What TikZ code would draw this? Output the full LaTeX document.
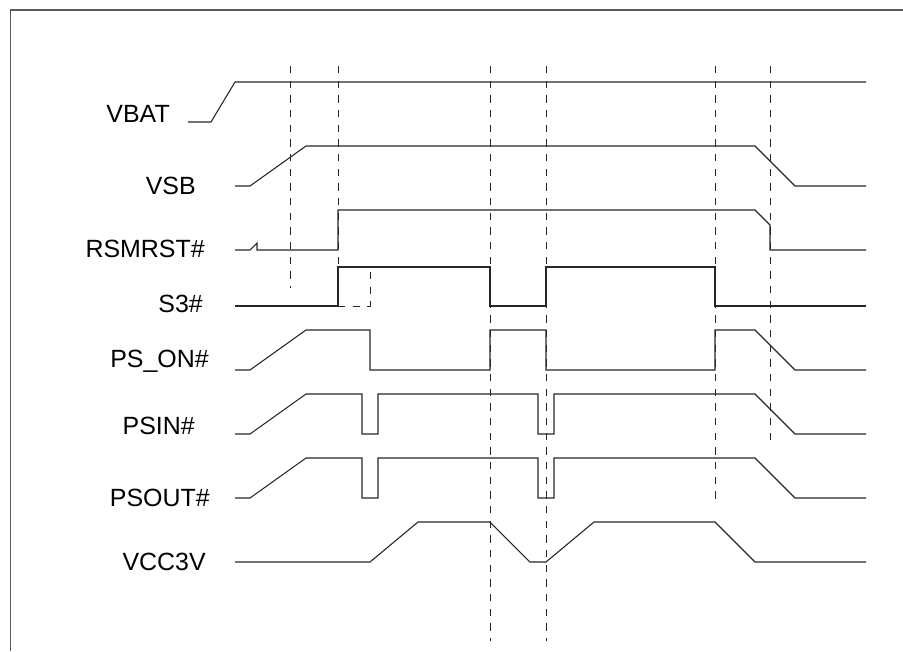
\documentclass[tikz,border=0pt]{standalone}
\usepackage{fontspec}
\setmainfont{Liberation Sans}
\begin{document}
\begin{tikzpicture}[x=0.75pt,y=-0.75pt,
  sig/.style={draw=black!85,line width=0.8pt,line join=miter},
  guide/.style={draw=black!85,line width=0.75pt,dash pattern=on 5.5pt off 5.5pt},
  frame/.style={draw=black!65,line width=1.2pt},
  lbl/.style={font=\fontsize{18.7}{22}\selectfont,anchor=base east,inner sep=0pt}]
\useasboundingbox (0,0) rectangle (903,651);
% frame
\draw[frame] (903,10) -- (10.5,10) -- (10.5,651);
% guide lines
\draw[guide] (290,66) -- (290,288);
\draw[guide] (338,66) -- (338,267);
\draw[guide] (338,306) -- (370,306) -- (370,268);
\draw[guide] (490,66) -- (490,641);
\draw[guide] (546,66) -- (546,641);
\draw[guide] (715,66) -- (715,503);
\draw[guide] (770,66) -- (770,443);
% labels
\node[lbl] (vbat) at (170,122) {VBAT};
\node[lbl] (vsb) at (196,194) {VSB};
\node[lbl] (rsm) at (205,257) {RSMRST\#};
\node[lbl] (s3) at (203,312) {S3\#};
\node[lbl] (pson) at (209,367) {PS\_ON\#};
\node[lbl] (psin) at (195,434) {PSIN\#};
\node[lbl] (psout) at (210,506) {PSOUT\#};
\node[lbl] (vcc) at (206,570) {VCC3V};
% VBAT
\draw[sig] (188,122) -- (211,122) -- (235,82) -- (866,82);
% VSB
\draw[sig] (235,186) -- (250,186) -- (306,146) -- (755,146) -- (795,186) -- (866,186);
% RSMRST#
\draw[sig] (235,250) -- (250,250) -- (257,243) -- (257,250) -- (338,250) -- (338,210)
  -- (755,210) -- (770,225) -- (770,250) -- (866,250);
% S3#
\draw[sig] (235,306) -- (338,306) -- (338,267) -- (490,267) -- (490,306) -- (546,306)
  -- (546,267) -- (715,267) -- (715,306) -- (866,306);
% PS_ON#
\draw[sig] (235,370) -- (250,370) -- (306,330) -- (370,330) -- (370,370) -- (490,370)
  -- (490,330) -- (546,330) -- (546,370) -- (715,370) -- (715,330) -- (755,330)
  -- (795,370) -- (866,370);
% PSIN#
\draw[sig] (235,434) -- (250,434) -- (306,394) -- (362,394) -- (362,434) -- (378,434)
  -- (378,394) -- (538,394) -- (538,434) -- (554,434) -- (554,394) -- (755,394)
  -- (795,434) -- (866,434);
% PSOUT#
\draw[sig] (235,498) -- (250,498) -- (306,458) -- (362,458) -- (362,498) -- (378,498)
  -- (378,458) -- (538,458) -- (538,498) -- (554,498) -- (554,458) -- (755,458)
  -- (795,498) -- (866,498);
% VCC3V
\draw[sig] (235,562) -- (370,562) -- (418,522) -- (490,522) -- (530,562) -- (546,562)
  -- (594,522) -- (715,522) -- (755,562) -- (866,562);
\end{tikzpicture}
\end{document}
